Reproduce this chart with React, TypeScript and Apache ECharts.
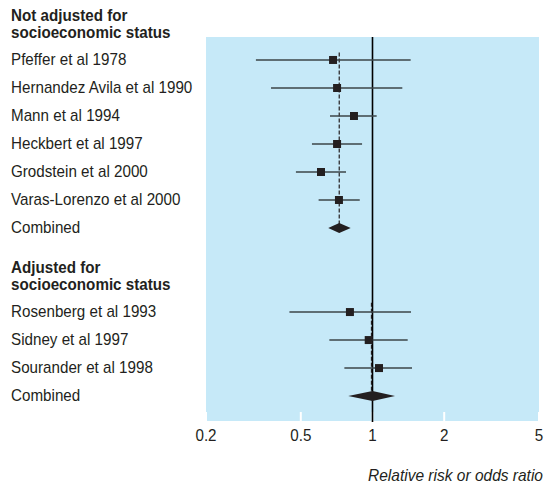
import React, { useEffect, useRef } from "react";
import * as echarts from "echarts";

const studyNames = [
  "Pfeffer et al 1978",
  "Hernandez Avila et al 1990",
  "Mann et al 1994",
  "Heckbert et al 1997",
  "Grodstein et al 2000",
  "Varas-Lorenzo et al 2000",
  "Combined",
  "Rosenberg et al 1993",
  "Sidney et al 1997",
  "Sourander et al 1998",
  "Combined",
];
const studyRows = [0, 1, 2, 3, 4, 5, 6, 9, 10, 11, 12];
const estimates = [0.683, 0.71, 0.836, 0.71, 0.608, 0.723, 0.725, 0.804, 0.964, 1.065, 1.0];
const lowerCI = [0.324, 0.375, 0.663, 0.557, 0.477, 0.594, 0.652, 0.448, 0.659, 0.762, 0.791];
const upperCI = [1.446, 1.334, 1.041, 0.904, 0.774, 0.884, 0.81, 1.451, 1.405, 1.465, 1.243];
const isPooled = [0, 0, 0, 0, 0, 0, 1, 0, 0, 0, 1];

const groupHeaders = ["Not adjusted for\nsocioeconomic status", "Adjusted for\nsocioeconomic status"];
const headerRows = [-1, 8];

// pooled reference (dashed) lines: value, start row, end row
const pooledValues = [0.725, 0.99];
const pooledStartRows = [-0.27, 8.67];
const pooledEndRows = [6, 12];

const tickValues = [0.2, 0.5, 1, 2, 5];
const tickLabels = ["0.2", "0.5", "1", "2", "5"];
const nullValue = 1;
const axisTitle = "Relative risk or odds ratio";

const FONT = "'Liberation Sans', Arial, sans-serif";
const INK = "#231f20";
const LINE = "#3b4448";
const SQUEEZE = 0.95;

export default function App() {
  const ref = useRef<HTMLDivElement>(null);
  useEffect(() => {
    if (!ref.current) return;
    const chart = echarts.init(ref.current, null, { renderer: "svg" });

    const studyData = studyNames.map((_, i) => [
      estimates[i],
      lowerCI[i],
      upperCI[i],
      studyRows[i],
      isPooled[i],
    ]);

    const labelData: any[] = [];
    const labelTexts: string[] = [];
    const labelBold: boolean[] = [];
    groupHeaders.forEach((h, i) => {
      labelData.push([1, headerRows[i]]);
      labelTexts.push(h);
      labelBold.push(true);
    });
    studyNames.forEach((n, i) => {
      labelData.push([1, studyRows[i]]);
      labelTexts.push(n);
      labelBold.push(false);
    });

    const option: any = {
      animation: false,
      graphic: [
        {
          type: "text",
          x: 543,
          y: 475,
          scaleX: 0.97,
          silent: true,
          style: {
            text: axisTitle,
            fontFamily: FONT,
            fontStyle: "italic",
            fontSize: 16,
            fill: INK,
            align: "right",
            verticalAlign: "middle",
          },
        },
      ],
      grid: {
        left: 206,
        right: 6,
        top: 37,
        bottom: 65,
        show: true,
        backgroundColor: "#c6e9f8",
        borderWidth: 0,
      },
      xAxis: {
        type: "log",
        logBase: 10,
        min: 0.2,
        max: 5,
        show: false,
        splitLine: { show: false },
      },
      yAxis: {
        type: "value",
        inverse: true,
        min: -0.82,
        max: 12.89,
        show: false,
        splitLine: { show: false },
      },
      series: [
        {
          // ticks + tick labels
          type: "custom",
          clip: false,
          silent: true,
          data: tickValues.map((v) => [v, 0]),
          renderItem: (params: any, api: any) => {
            const x = api.coord([api.value(0), 0])[0];
            const cs = params.coordSys;
            const bottom = cs.y + cs.height;
            return {
              type: "group",
              children: [
                {
                  type: "rect",
                  shape: { x: x - 1, y: bottom - 9, width: 2, height: 9 },
                  style: { fill: "#ffffff" },
                },
                {
                  type: "text",
                  x: x,
                  y: bottom + 14,
                  scaleX: SQUEEZE,
                  style: {
                    text: tickLabels[params.dataIndex],
                    fontFamily: FONT,
                    fontSize: 16,
                    fill: INK,
                    align: "center",
                    verticalAlign: "middle",
                  },
                },
              ],
            };
          },
        },
        {
          // line of no effect
          type: "custom",
          clip: false,
          silent: true,
          data: [[nullValue, 0]],
          renderItem: (params: any, api: any) => {
            const x = api.coord([api.value(0), 0])[0];
            const cs = params.coordSys;
            return {
              type: "line",
              shape: { x1: x, y1: cs.y, x2: x, y2: cs.y + cs.height + 1 },
              style: { stroke: "#000000", lineWidth: 1.6 },
            };
          },
        },
        {
          // dashed pooled lines
          type: "custom",
          clip: false,
          silent: true,
          data: pooledValues.map((v, i) => [v, pooledStartRows[i], pooledEndRows[i]]),
          encode: { x: 0, y: [1, 2] },
          renderItem: (params: any, api: any) => {
            const p1 = api.coord([api.value(0), api.value(1)]);
            const p2 = api.coord([api.value(0), api.value(2)]);
            return {
              type: "line",
              shape: { x1: p1[0], y1: p1[1], x2: p2[0], y2: p2[1] },
              style: { stroke: INK, lineWidth: 1.2, lineDash: [4, 2] },
            };
          },
        },
        {
          // studies
          type: "custom",
          clip: false,
          silent: true,
          data: studyData,
          encode: { x: [0, 1, 2], y: 3 },
          renderItem: (params: any, api: any) => {
            const est = api.value(0);
            const lo = api.value(1);
            const hi = api.value(2);
            const row = api.value(3);
            const pooled = api.value(4);
            const pE = api.coord([est, row]);
            const pL = api.coord([lo, row]);
            const pH = api.coord([hi, row]);
            if (pooled) {
              return {
                type: "polygon",
                shape: {
                  points: [
                    [pL[0], pE[1]],
                    [pE[0], pE[1] - 5],
                    [pH[0], pE[1]],
                    [pE[0], pE[1] + 5],
                  ],
                },
                style: { fill: INK },
              };
            }
            return {
              type: "group",
              children: [
                {
                  type: "line",
                  shape: { x1: pL[0], y1: pE[1], x2: pH[0], y2: pE[1] },
                  style: { stroke: LINE, lineWidth: 1.5 },
                },
                {
                  type: "rect",
                  shape: { x: pE[0] - 4, y: pE[1] - 4, width: 8, height: 8 },
                  style: { fill: INK },
                },
              ],
            };
          },
        },
        {
          // row labels
          type: "custom",
          clip: false,
          silent: true,
          data: labelData,
          renderItem: (params: any, api: any) => {
            const y = api.coord([1, api.value(1)])[1];
            const bold = labelBold[params.dataIndex];
            return {
              type: "text",
              x: 11,
              y: bold ? y - 8.5 : y - 0.5,
              scaleX: SQUEEZE,
              style: {
                text: labelTexts[params.dataIndex],
                fontFamily: FONT,
                fontSize: 16,
                fontWeight: bold ? "bold" : "normal",
                lineHeight: 17,
                fill: INK,
                align: "left",
                verticalAlign: "middle",
              },
            };
          },
        },
      ],
    };
    chart.setOption(option);
    return () => chart.dispose();
  }, []);

  return (
    <div
      ref={ref}
      style={{ position: "absolute", left: 0, top: 0, width: 545, height: 486 }}
    />
  );
}
